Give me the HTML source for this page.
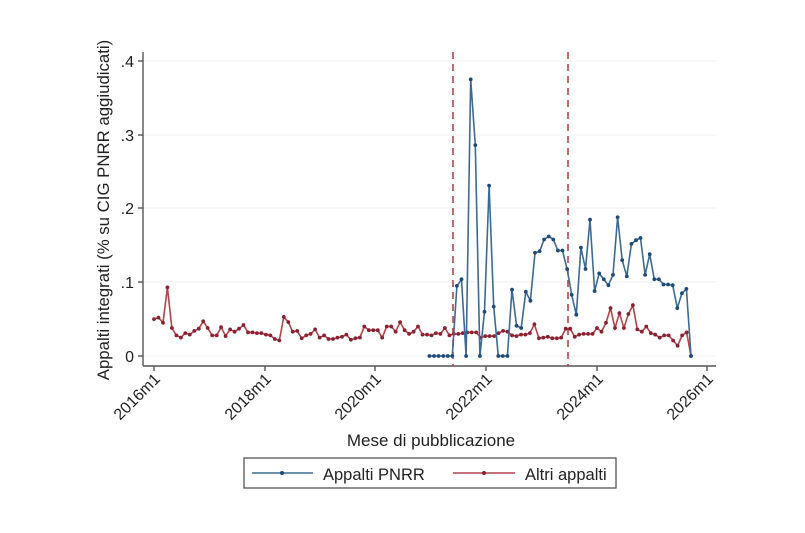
<!DOCTYPE html>
<html><head><meta charset="utf-8"><style>
html,body{margin:0;padding:0;background:#fff;}
svg{display:block;font-family:"Liberation Sans",Arial,sans-serif;}
</style></head><body>
<svg id="s" width="805" height="533" viewBox="0 0 805 533" xmlns="http://www.w3.org/2000/svg">
<rect width="805" height="533" fill="#fff"/>
<g stroke="#eef2f2" stroke-width="1">
<line x1="144" y1="61" x2="716" y2="61"/>
<line x1="144" y1="135" x2="716" y2="135"/>
<line x1="144" y1="208" x2="716" y2="208"/>
<line x1="144" y1="282" x2="716" y2="282"/>
<line x1="144" y1="356" x2="716" y2="356"/>
</g>
<g stroke="#555" stroke-width="1.4" fill="none">
<line x1="143" y1="52" x2="143" y2="366"/>
<line x1="143" y1="366" x2="716" y2="366"/>
<line x1="138" y1="61" x2="143" y2="61"/>
<line x1="138" y1="135" x2="143" y2="135"/>
<line x1="138" y1="208" x2="143" y2="208"/>
<line x1="138" y1="282" x2="143" y2="282"/>
<line x1="138" y1="356" x2="143" y2="356"/>
<line x1="154" y1="366" x2="154" y2="371"/>
<line x1="265" y1="366" x2="265" y2="371"/>
<line x1="375" y1="366" x2="375" y2="371"/>
<line x1="486" y1="366" x2="486" y2="371"/>
<line x1="597" y1="366" x2="597" y2="371"/>
<line x1="707" y1="366" x2="707" y2="371"/>
</g>
<g font-size="16" fill="#222" text-anchor="end">
<text x="134" y="67">.4</text>
<text x="134" y="141">.3</text>
<text x="134" y="214">.2</text>
<text x="134" y="288">.1</text>
<text x="134" y="362">0</text>
</g>
<g font-size="16" fill="#222" text-anchor="end">
<text transform="translate(161,380) rotate(-45)">2016m1</text>
<text transform="translate(272,380) rotate(-45)">2018m1</text>
<text transform="translate(382,380) rotate(-45)">2020m1</text>
<text transform="translate(493,380) rotate(-45)">2022m1</text>
<text transform="translate(604,380) rotate(-45)">2024m1</text>
<text transform="translate(714,380) rotate(-45)">2026m1</text>
</g>
<text x="431" y="446" font-size="17" fill="#222" text-anchor="middle">Mese di pubblicazione</text>
<text transform="translate(109,210) rotate(-90)" font-size="16.8" fill="#222" text-anchor="middle">Appalti integrati (% su CIG PNRR aggiudicati)</text>
<g stroke="#b0444a" stroke-width="1.6" stroke-dasharray="7,5">
<line x1="453" y1="52" x2="453" y2="366"/>
<line x1="568" y1="52" x2="568" y2="366"/>
</g>
<g id="series"></g>
<rect x="244" y="458" width="372" height="30" fill="#fff" stroke="#555" stroke-width="1.3"/>
<line x1="252" y1="473" x2="313" y2="473" stroke="#3d6a94" stroke-width="1.6"/>
<circle cx="282" cy="473" r="2" fill="#1e4a78"/>
<text x="323" y="480" font-size="16.5" fill="#222">Appalti PNRR</text>
<line x1="453" y1="473" x2="515" y2="473" stroke="#b0444a" stroke-width="1.6"/>
<circle cx="484" cy="473" r="2" fill="#8a2030"/>
<text x="525" y="480" font-size="16.5" fill="#222">Altri appalti</text>
</svg>
<script>
var red=[.05,.052,.045,.093,.038,.028,.025,.031,.029,.034,.037,.047,.038,.028,.028,.039,.027,.036,.033,.037,.042,.032,.032,.031,.031,.029,.028,.023,.021,.053,.046,.033,.034,.024,.028,.03,.036,.025,.028,.023,.023,.025,.026,.029,.022,.024,.025,.04,.035,.035,.035,.025,.04,.04,.033,.046,.035,.03,.033,.04,.029,.029,.028,.031,.03,.038,.028,.03,.03,.031,.032,.032,.032,.025,.027,.027,.027,.031,.034,.033,.028,.027,.029,.029,.031,.043,.024,.025,.026,.024,.024,.025,.037,.037,.026,.029,.03,.03,.03,.038,.033,.045,.065,.038,.058,.038,.057,.069,.036,.033,.04,.031,.029,.025,.028,.028,.021,.014,.028,.032,0];
var blue=[0,0,0,0,0,0,.095,.104,0,.375,.286,0,.06,.231,.067,0,0,0,.09,.041,.038,.087,.075,.14,.142,.158,.162,.158,.143,.143,.118,.083,.056,.147,.118,.185,.088,.112,.104,.096,.11,.188,.13,.108,.152,.157,.16,.11,.138,.104,.104,.097,.097,.096,.065,.085,.091,0];
function X(m){return 154+4.59*m;}function Y(v){return 356-737.5*v;}
function draw(d,start,col,dot){var n=d.length;var last=117;var pts=[],c='';
for(var i=0;i<n;i++){var m=start+i*(last-start)/(n-1);var x=X(m),y=Y(d[i]);pts.push(x.toFixed(1)+','+y.toFixed(1));c+='<circle cx="'+x.toFixed(1)+'" cy="'+y.toFixed(1)+'" r="1.9" fill="'+dot+'"/>';}
return '<polyline points="'+pts.join(' ')+'" fill="none" stroke="'+col+'" stroke-width="1.6"/>'+c;}
document.getElementById('series').innerHTML=draw(red,0,'#b0444a','#8a2030')+draw(blue,60,'#3d6a94','#1e4a78');
</script>
</body></html>
